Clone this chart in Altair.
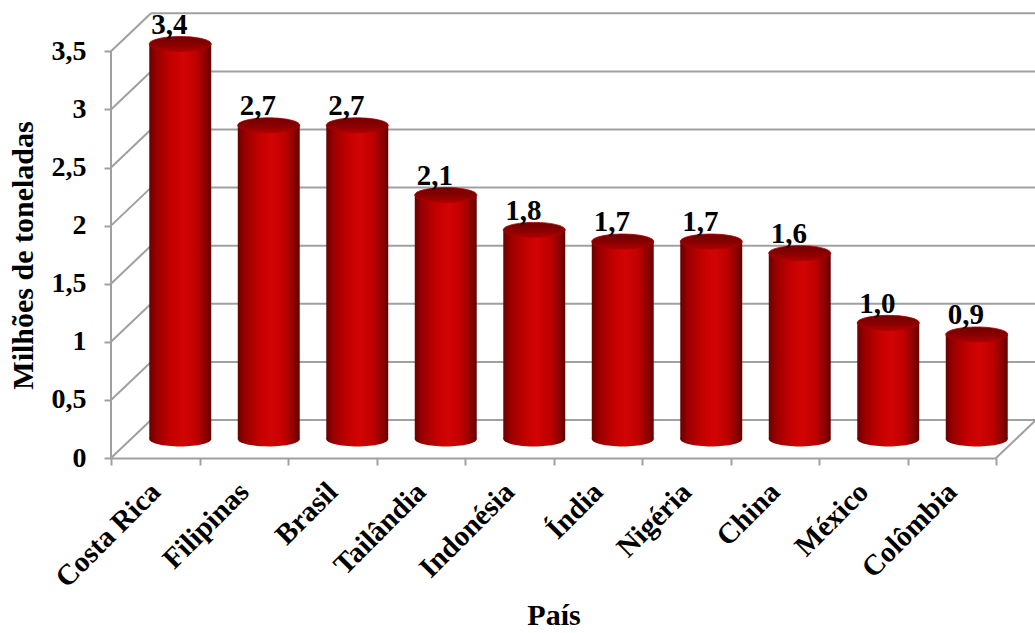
import altair as alt
import pandas as pd

# ---- data ----
paises = ["Costa Rica", "Filipinas", "Brasil", "Tailândia", "Indonésia",
          "Índia", "Nigéria", "China", "México", "Colômbia"]
valores = [3.4, 2.7, 2.7, 2.1, 1.8, 1.7, 1.7, 1.6, 1.0, 0.9]
y_ticks = [0, 0.5, 1, 1.5, 2, 2.5, 3, 3.5]

df = pd.DataFrame({
    "pais": paises,
    "valor": valores,
    "rotulo": [f"{v:.1f}".replace(".", ",") for v in valores],
})
grid = pd.DataFrame({"t": y_ticks})
frame = pd.DataFrame({"lo": [min(y_ticks)], "hi": [max(y_ticks)]})

# ---- styling ----
FONT = "Liberation Serif"
GRID = "#a0a0a0"
W, H = 924, 445
DX, DY = 40, -38          # depth offset of back wall
BX, BY = 25, -19          # depth offset of bars (middle)

y_scale = alt.Scale(domain=[0, 3.83], nice=False, zero=False)
y_axis = alt.Axis(values=y_ticks, domain=False, grid=False,
                  labelExpr="replace(format(datum.value, '~g'), '.', ',')",
                  labelFont=FONT, labelFontSize=28, labelFontWeight="bold",
                  labelColor="black", labelPadding=18,
                  tickColor=GRID, tickWidth=2, tickSize=7,
                  title="Milhões de toneladas", titleFont=FONT, titleFontSize=30,
                  titleFontWeight="bold", titleColor="black",
                  titleX=-88, titleY=242, titleAngle=-90,
                  titleAlign="center", titleBaseline="middle")
x_scale = alt.Scale(range=[0, 885], paddingInner=0, paddingOuter=0)
x_axis = alt.Axis(labelAngle=-45, labelAlign="right", labelBaseline="middle",
                  labelFont=FONT, labelFontSize=29, labelFontWeight="bold",
                  labelColor="black", labelPadding=22,
                  tickBand="extent", tickColor=GRID, tickWidth=2, tickSize=7,
                  domainColor=GRID, domainWidth=2, grid=False,
                  title="País", titleFont=FONT, titleFontSize=30,
                  titleFontWeight="bold", titleColor="black",
                  titleY=166, titleBaseline="alphabetic")

def Y(field):
    return alt.Y(field, scale=y_scale, axis=y_axis)

def X():
    return alt.X("pais:N", sort=paises, scale=x_scale, axis=x_axis)

# back wall grid lines
back = alt.Chart(grid).mark_rule(color=GRID, strokeWidth=2, yOffset=DY).encode(
    y=Y("t:Q"), x=alt.value(DX), x2=alt.value(W))
# side wall diagonals
side = alt.Chart(grid).mark_rule(color=GRID, strokeWidth=2, y2Offset=DY).encode(
    y=Y("t:Q"), y2="t:Q", x=alt.value(0), x2=alt.value(DX))
# floor right edge
floor_r = alt.Chart(frame).mark_rule(color=GRID, strokeWidth=2, y2Offset=DY).encode(
    y=Y("lo:Q"), y2="lo:Q", x=alt.value(885), x2=alt.value(885 + DX))
# front vertical axis line
front = alt.Chart(frame).mark_rule(color=GRID, strokeWidth=2).encode(
    y=Y("lo:Q"), y2="hi:Q", x=alt.value(0))

body_grad = alt.Gradient(
    gradient="linear", x1=0, x2=1, y1=0, y2=0,
    stops=[alt.GradientStop(offset=0, color="#6a0000"),
           alt.GradientStop(offset=0.12, color="#9a0000"),
           alt.GradientStop(offset=0.35, color="#c40000"),
           alt.GradientStop(offset=0.55, color="#d20404"),
           alt.GradientStop(offset=0.75, color="#c00000"),
           alt.GradientStop(offset=0.92, color="#880000"),
           alt.GradientStop(offset=1, color="#600000")])
top_grad = alt.Gradient(
    gradient="linear", x1=0, x2=0, y1=0, y2=1,
    stops=[alt.GradientStop(offset=0, color="#700000"),
           alt.GradientStop(offset=0.6, color="#8c0000"),
           alt.GradientStop(offset=1, color="#b00000")])

ELLIPSE = "M-1,0A1,0.24,0,1,1,1,0A1,0.24,0,1,1,-1,0Z"
CAP = 62 * 62

bottom_cap = alt.Chart(df).mark_point(
    shape=ELLIPSE, size=CAP, filled=True, fill=body_grad, opacity=1,
    strokeWidth=0, xOffset=BX, yOffset=BY).encode(
    x=X(), y=alt.Y("zero:Q", scale=y_scale, axis=y_axis)
).transform_calculate(zero="0")

body = alt.Chart(df).mark_bar(
    fill=body_grad, width=alt.RelativeBandSize(0.7),
    xOffset=BX, yOffset=BY, y2Offset=BY).encode(
    x=X(), y=Y("valor:Q"), y2=alt.datum(0))

top_cap = alt.Chart(df).mark_point(
    shape=ELLIPSE, size=CAP, filled=True, fill=top_grad, opacity=1,
    stroke="#a80000", strokeWidth=0.8, xOffset=BX, yOffset=BY).encode(
    x=X(), y=Y("valor:Q"))

labels = alt.Chart(df).mark_text(
    font=FONT, fontSize=29, fontWeight="bold", color="black",
    dx=14, dy=-29, baseline="alphabetic", align="center").encode(
    x=X(), y=Y("valor:Q"), text="rotulo:N")

chart = alt.layer(back, side, floor_r, front, bottom_cap, body, top_cap, labels).properties(
    width=W, height=H,
    autosize=alt.AutoSizeParams(type="none"),
    padding={"left": 111, "top": 13, "right": 0, "bottom": 175},
    background="white",
).configure_view(stroke=None)

chart.save("out.html", embed_options={"renderer": "svg", "actions": False})
